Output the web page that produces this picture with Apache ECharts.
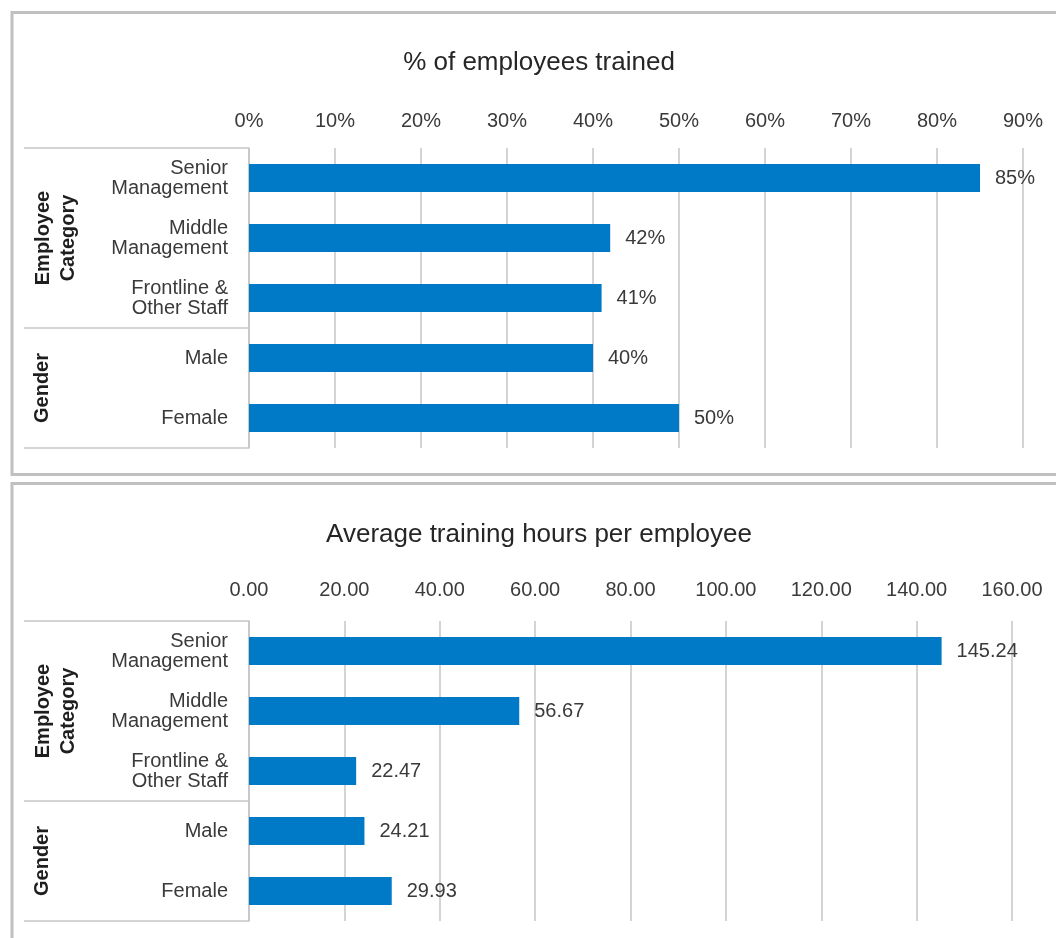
<!DOCTYPE html>
<html><head><meta charset="utf-8">
<script src="https://cdn.jsdelivr.net/npm/echarts@6/dist/echarts.min.js"></script>
<style>html,body{margin:0;padding:0;background:#fff}#c{width:1056px;height:938px}</style>
</head><body><div id="c"></div><script>
const categories = ['Senior\nManagement', 'Middle\nManagement', 'Frontline &\nOther Staff', 'Male', 'Female'];
const groupNames = ['Employee\nCategory', 'Gender'];
const groupSizes = [3, 2];
const pctTrained = [85, 42, 41, 40, 50];
const avgHours = [145.24, 56.67, 22.47, 24.21, 29.93];
const titles = ['% of employees trained', 'Average training hours per employee'];
const pctAxis = { min: 0, max: 90, interval: 10 };
const hourAxis = { min: 0, max: 160, interval: 20 };

const FONT = 'Liberation Sans';
const TXT = '#3a3a3a';
const GRIDC = '#c6c6c6';
const BAR = '#0079c6';

const grids = [
  { left: 249, top: 148, width: 774, height: 300 },
  { left: 249, top: 621, width: 763, height: 300 }
];
const titleTops = [50, 522];
const tickMargins = [17, 21];

const chart = echarts.init(document.getElementById('c'), null, { renderer: 'canvas' });

const xAxes = [pctAxis, hourAxis].map((a, i) => ({
  type: 'value', gridIndex: i, position: 'top', min: a.min, max: a.max, interval: a.interval,
  axisLine: { show: false }, axisTick: { show: false },
  axisLabel: {
    margin: tickMargins[i], fontSize: 20, color: TXT, fontFamily: FONT,
    formatter: i === 0 ? (v => v + '%') : (v => v.toFixed(2))
  },
  splitLine: { show: true, lineStyle: { color: GRIDC, width: 1.5 } }
}));
const yAxes = [0, 1].map(i => ({
  type: 'category', gridIndex: i, data: categories, inverse: true,
  axisLine: { show: true, lineStyle: { color: GRIDC, width: 1.5 } },
  axisTick: { show: false },
  axisLabel: { margin: 21, fontSize: 20, lineHeight: 20, padding: [6, 0, 0, 0], color: TXT, fontFamily: FONT, align: 'right' }
}));
const series = [pctTrained, avgHours].map((d, i) => ({
  type: 'bar', xAxisIndex: i, yAxisIndex: i, data: d, barCategoryGap: '53%',
  itemStyle: { color: BAR },
  label: {
    show: true, position: 'right', distance: 15, fontSize: 20, color: TXT, fontFamily: FONT,
    padding: [3, 0, 0, 0],
    formatter: i === 0 ? (p => p.value + '%') : (p => p.value.toFixed(2))
  },
  animation: false
}));

chart.setOption({
  animation: false,
  textStyle: { fontFamily: FONT },
  title: titles.map((t, i) => ({
    text: t, left: 539, top: titleTops[i], textAlign: 'center', padding: 0,
    textStyle: { fontSize: 26, fontWeight: 'normal', color: '#262626', fontFamily: FONT }
  })),
  grid: grids,
  xAxis: xAxes,
  yAxis: yAxes,
  series: series
});

// decorations: borders, category brackets, group labels
const graphics = [];
[[12, 12.5, 462], [12, 483.5, 470]].forEach(([x, y, h]) => {
  graphics.push({ type: 'rect', shape: { x: x, y: y, width: 1070, height: h },
    style: { fill: 'none', stroke: '#c0c0c0', lineWidth: 3 }, silent: true });
});
[0, 1].forEach(k => {
  const c0 = chart.convertToPixel({ yAxisIndex: k }, categories[0]);
  const c1 = chart.convertToPixel({ yAxisIndex: k }, categories[1]);
  const step = c1 - c0;
  const x1 = 24, x2 = grids[k].left;
  let idx = 0;
  const bounds = [c0 - step / 2];
  groupSizes.forEach(s => { idx += s; bounds.push(c0 - step / 2 + idx * step); });
  bounds.forEach(y => {
    graphics.push({ type: 'line', shape: { x1: x1, y1: y, x2: x2, y2: y },
      style: { stroke: GRIDC, lineWidth: 1.5 }, silent: true });
  });
  groupNames.forEach((g, gi) => {
    const cy = (bounds[gi] + bounds[gi + 1]) / 2;
    const lines = g.split('\n').length;
    const cx = lines > 1 ? 55.5 : 42;
    graphics.push({ type: 'text', x: cx, y: cy, rotation: Math.PI / 2, silent: true,
      style: { text: g, fontSize: 20, fontWeight: 'bold', fontFamily: FONT, fill: '#1e1e1e',
        lineHeight: 25, align: 'center', verticalAlign: 'middle' } });
  });
});
chart.setOption({ graphic: graphics });
</script></body></html>
